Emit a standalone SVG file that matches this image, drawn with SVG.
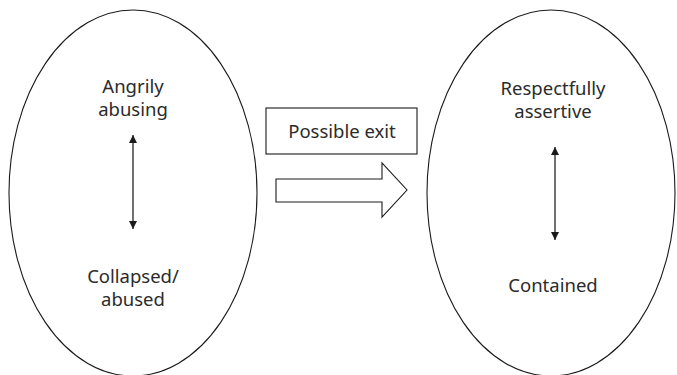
<svg xmlns="http://www.w3.org/2000/svg" width="677" height="375" viewBox="0 0 677 375">
<style>
.shape{fill:#fff;stroke:#1a1a1a;stroke-width:1.1}
.lbl{font-family:"Noto Sans","Liberation Sans",sans-serif;font-size:18.5px;fill:#2b2b2b;text-anchor:middle}
.conn{stroke:#333;stroke-width:1.4;fill:none}
</style>
<defs>
<marker id="ah" viewBox="0 0 10 10" refX="10" refY="5" markerWidth="9" markerHeight="8" markerUnits="userSpaceOnUse" orient="auto-start-reverse">
<path d="M0,0 L10,5 L0,10 z" fill="#1a1a1a"/>
</marker>
</defs>
<rect width="677" height="375" fill="#fff"/>
<g id="left-state">
<ellipse class="shape" cx="133" cy="193" rx="124" ry="183"/>
<text class="lbl" x="133" y="93">Angrily</text>
<text class="lbl" x="133" y="116">abusing</text>
<text class="lbl" x="133" y="283">Collapsed/</text>
<text class="lbl" x="133" y="306">abused</text>
</g>
<g id="right-state">
<ellipse class="shape" cx="551" cy="193" rx="124" ry="183"/>
<text class="lbl" x="553" y="95">Respectfully</text>
<text class="lbl" x="553" y="118">assertive</text>
<text class="lbl" x="553" y="292">Contained</text>
</g>
<g id="exit-label">
<rect class="shape" x="266" y="108" width="151" height="46"/>
<text class="lbl" x="342" y="138">Possible exit</text>
</g>
<g id="exit-arrow">
<path class="shape" d="M276,179 L382,179 L382,163 L407,190 L382,217 L382,202 L276,202 Z"/>
</g>
<g id="connectors">
<line class="conn" x1="133" y1="135" x2="133" y2="229" marker-start="url(#ah)" marker-end="url(#ah)"/>
<line class="conn" x1="555" y1="147" x2="555" y2="240" marker-start="url(#ah)" marker-end="url(#ah)"/>
</g>
</svg>
